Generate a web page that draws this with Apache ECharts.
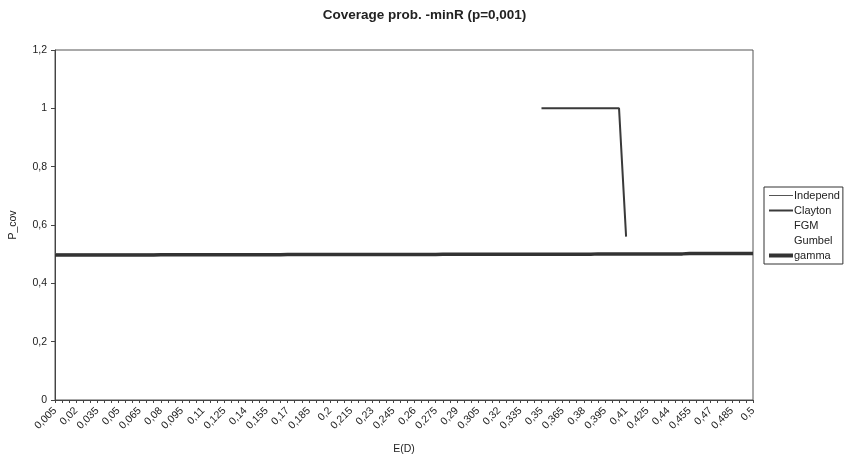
<!DOCTYPE html>
<html>
<head>
<meta charset="utf-8">
<script src="https://cdn.jsdelivr.net/npm/echarts@6/dist/echarts.min.js"></script>
<style>
  html, body { margin: 0; padding: 0; background: #fff; }
  #chart { width: 849px; height: 456px; }
</style>
</head>
<body>
<div id="chart"></div>
<script>
// E(D) categories
var edValues = [
  0.005, 0.01, 0.015, 0.02, 0.025, 0.03, 0.035, 0.04, 0.045, 0.05,
  0.055, 0.06, 0.065, 0.07, 0.075, 0.08, 0.085, 0.09, 0.095, 0.1,
  0.105, 0.11, 0.115, 0.12, 0.125, 0.13, 0.135, 0.14, 0.145, 0.15,
  0.155, 0.16, 0.165, 0.17, 0.175, 0.18, 0.185, 0.19, 0.195, 0.2,
  0.205, 0.21, 0.215, 0.22, 0.225, 0.23, 0.235, 0.24, 0.245, 0.25,
  0.255, 0.26, 0.265, 0.27, 0.275, 0.28, 0.285, 0.29, 0.295, 0.3,
  0.305, 0.31, 0.315, 0.32, 0.325, 0.33, 0.335, 0.34, 0.345, 0.35,
  0.355, 0.36, 0.365, 0.37, 0.375, 0.38, 0.385, 0.39, 0.395, 0.4,
  0.405, 0.41, 0.415, 0.42, 0.425, 0.43, 0.435, 0.44, 0.445, 0.45,
  0.455, 0.46, 0.465, 0.47, 0.475, 0.48, 0.485, 0.49, 0.495, 0.5
];

// coverage probability per copula model
var independ = [
  0.5, 0.5, 0.5, 0.5, 0.5, 0.5, 0.5, 0.5, 0.5, 0.5,
  0.5, 0.5, 0.5, 0.5, 0.5, 0.5, 0.5, 0.5, 0.5, 0.5,
  0.5, 0.5, 0.5, 0.5, 0.5, 0.5, 0.5, 0.5, 0.5, 0.5,
  0.5, 0.5, 0.5, 0.5, 0.5, 0.5, 0.5, 0.5, 0.5, 0.5,
  0.5, 0.5, 0.5, 0.5, 0.5, 0.5, 0.5, 0.5, 0.5, 0.5,
  0.5, 0.5, 0.5, 0.5, 0.5, 0.5, 0.5, 0.5, 0.5, 0.5,
  0.5, 0.5, 0.5, 0.5, 0.5, 0.5, 0.5, 0.5, 0.5, 0.5,
  0.5, 0.5, 0.5, 0.5, 0.5, 0.5, 0.5, 0.5, 0.5, 0.5,
  0.5, 0.5, 0.5, 0.5, 0.5, 0.5, 0.5, 0.5, 0.5, 0.5,
  0.5, 0.5, 0.5, 0.5, 0.5, 0.5, 0.5, 0.5, 0.5, 0.5
];
var clayton = [
  null, null, null, null, null, null, null, null, null, null,
  null, null, null, null, null, null, null, null, null, null,
  null, null, null, null, null, null, null, null, null, null,
  null, null, null, null, null, null, null, null, null, null,
  null, null, null, null, null, null, null, null, null, null,
  null, null, null, null, null, null, null, null, null, null,
  null, null, null, null, null, null, null, null, null, 1,
  1, 1, 1, 1, 1, 1, 1, 1, 1, 1,
  1, 0.56, null, null, null, null, null, null, null, null,
  null, null, null, null, null, null, null, null, null, null
];
var fgm = independ.slice();
var gumbel = independ.slice();
var gamma = [
  0.497, 0.497, 0.497, 0.497, 0.497, 0.497, 0.497, 0.497, 0.497, 0.497,
  0.497, 0.497, 0.497, 0.497, 0.497, 0.498, 0.498, 0.498, 0.498, 0.498,
  0.498, 0.498, 0.498, 0.498, 0.498, 0.498, 0.498, 0.498, 0.498, 0.498,
  0.498, 0.498, 0.498, 0.499, 0.499, 0.499, 0.499, 0.499, 0.499, 0.499,
  0.499, 0.499, 0.499, 0.499, 0.499, 0.499, 0.499, 0.499, 0.499, 0.499,
  0.499, 0.499, 0.499, 0.499, 0.499, 0.5, 0.5, 0.5, 0.5, 0.5,
  0.5, 0.5, 0.5, 0.5, 0.5, 0.5, 0.5, 0.5, 0.5, 0.5,
  0.5, 0.5, 0.5, 0.5, 0.5, 0.5, 0.5, 0.501, 0.501, 0.501,
  0.501, 0.501, 0.501, 0.501, 0.501, 0.501, 0.501, 0.501, 0.501, 0.501,
  0.502, 0.502, 0.502, 0.502, 0.502, 0.502, 0.502, 0.502, 0.502, 0.502
];

// axis ticks
var yTicks = [0, 0.2, 0.4, 0.6, 0.8, 1, 1.2];

function comma(v) { return String(v).replace('.', ','); }

var FONT = 'Liberation Sans, Arial, sans-serif';
var INK = '#222';

var chart = echarts.init(document.getElementById('chart'), null, { renderer: 'canvas' });

function lineSeries(name, data, color, width, z) {
  return {
    name: name,
    type: 'line',
    data: data,
    symbol: 'none',
    showSymbol: false,
    connectNulls: false,
    z: z,
    lineStyle: { color: color, width: width },
    itemStyle: { color: color },
    emphasis: { disabled: true }
  };
}

chart.setOption({
  animation: false,
  backgroundColor: '#fff',
  title: {
    text: 'Coverage prob. -minR (p=0,001)',
    left: 'center',
    top: 3,
    textStyle: { fontFamily: FONT, fontSize: 13.5, fontWeight: 'bold', color: INK }
  },
  grid: {
    left: 55,
    right: 96,
    top: 50,
    bottom: 56,
    outerBoundsMode: 'none',
    containLabel: false,
    show: true,
    borderColor: '#555',
    borderWidth: 1,
    backgroundColor: 'transparent'
  },
  legend: {
    orient: 'vertical',
    left: 764,
    top: 187,
    padding: [3, 3, 3, 3],
    itemGap: 4,
    itemWidth: 24,
    itemHeight: 11,
    borderColor: '#333',
    borderWidth: 1,
    itemStyle: { opacity: 0 },
    textStyle: { fontFamily: FONT, fontSize: 11, color: INK, padding: [0, 0, 0, -4] },
    data: [
      { name: 'Independ', lineStyle: { width: 1, color: '#555' } },
      { name: 'Clayton', lineStyle: { width: 2, color: '#3a3a3a' } },
      { name: 'FGM' },
      { name: 'Gumbel' },
      { name: 'gamma', lineStyle: { width: 4, color: '#333' } }
    ]
  },
  xAxis: {
    type: 'category',
    data: edValues,
    boundaryGap: false,
    name: 'E(D)',
    nameLocation: 'middle',
    nameGap: 44,
    nameTextStyle: { fontFamily: FONT, fontSize: 10.5, color: INK },
    axisLine: { show: true, lineStyle: { color: '#444', width: 1 } },
    axisTick: { show: true, interval: 0, length: 3, inside: false, lineStyle: { color: '#444' } },
    axisLabel: {
      interval: 2,
      rotate: 45,
      margin: 9,
      fontFamily: FONT,
      fontSize: 10.5,
      color: INK,
      formatter: function (v) { return comma(v); }
    },
    splitLine: { show: false }
  },
  yAxis: {
    type: 'value',
    min: yTicks[0],
    max: yTicks[yTicks.length - 1],
    interval: 0.2,
    name: 'P_cov',
    nameLocation: 'middle',
    nameGap: 36,
    nameRotate: 90,
    nameTextStyle: { fontFamily: FONT, fontSize: 10.5, color: INK },
    axisLine: { show: true, lineStyle: { color: '#444', width: 1 } },
    axisTick: { show: true, length: 4, inside: false, lineStyle: { color: '#444' } },
    axisLabel: {
      margin: 8,
      fontFamily: FONT,
      fontSize: 10.5,
      color: INK,
      formatter: function (v) { return comma(Math.round(v * 10) / 10); }
    },
    splitLine: { show: false }
  },
  series: [
    lineSeries('FGM', fgm, '#ffffff', 1, 1),
    lineSeries('Gumbel', gumbel, '#ffffff', 1, 1),
    lineSeries('Independ', independ, '#555', 1, 2),
    lineSeries('gamma', gamma, '#333', 3.5, 3),
    lineSeries('Clayton', clayton, '#3a3a3a', 2, 4)
  ]
});
</script>
</body>
</html>
